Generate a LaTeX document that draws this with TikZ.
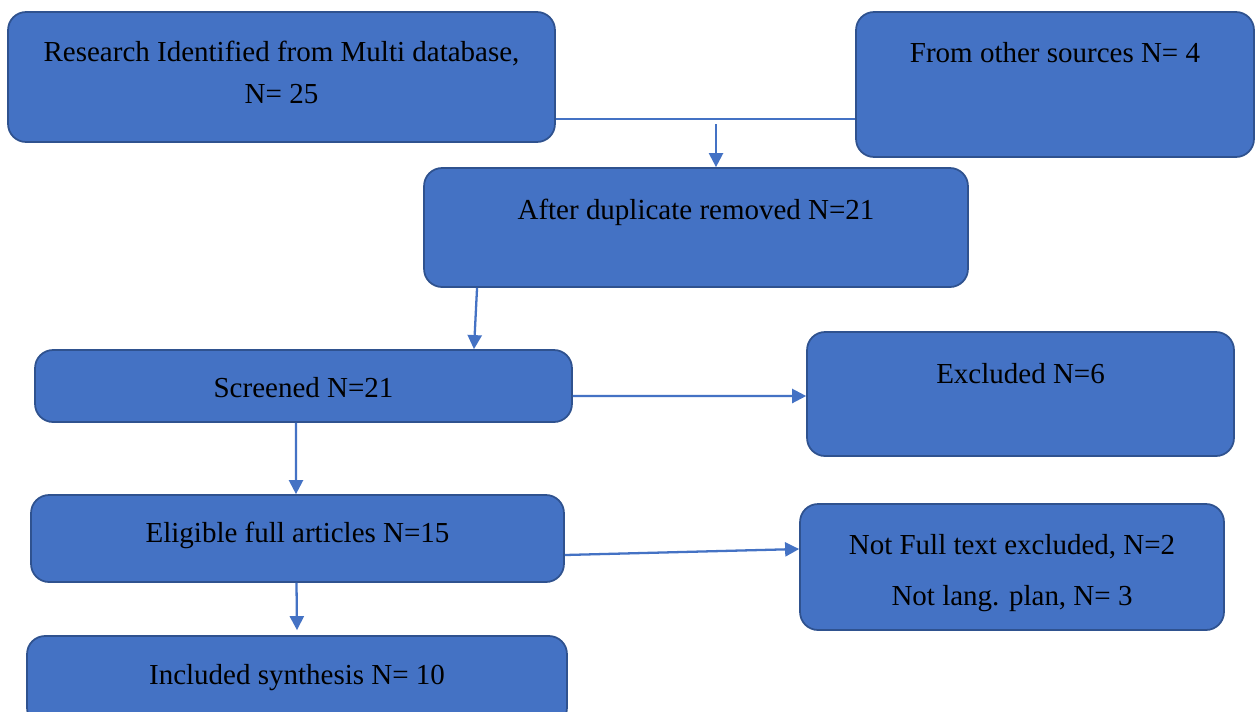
\documentclass[tikz,border=0pt]{standalone}
\usepackage{fontspec}
\setmainfont{Liberation Serif}
\usetikzlibrary{arrows.meta}
\usetikzlibrary{positioning}
\definecolor{boxblue}{HTML}{4472C4}
\definecolor{boxedge}{HTML}{2F528F}

\begin{document}
\begin{tikzpicture}[x=0.02cm,y=-0.02cm,
	every node/.style={font=\fontsize{16.5}{20}\selectfont},
	box/.style={draw=boxedge,line width=1pt,fill=boxblue,rounded corners=0.36cm,inner sep=0pt},
	txt/.style={inner sep=0pt,align=center},
	link/.style={draw=boxblue,line width=0.7pt},
	arr/.style={draw=boxblue,line width=1.3pt,-{Triangle[length=8pt,width=8pt]}}]
	\useasboundingbox[fill=white] (0,0) rectangle (1256,711);

	% boxes
	\node[box,minimum width=10.94cm,minimum height=2.6cm] (research) at (281.5,77) {};
	\node[txt] (researchtxt) at ([yshift=-1.22cm]research.north)
		{Research Identified from Multi database,\\[3.8pt] N= 25};
	\node[box,minimum width=7.96cm,minimum height=2.9cm] (other) at (1055,84.5) {};
	\node[txt] (othertxt) at ([yshift=-0.82cm]other.north) {From other sources N= 4};
	\node[box,minimum width=10.88cm,minimum height=2.38cm] (after) at (696,227.5) {};
	\node[txt] (aftertxt) at ([yshift=-0.9cm]after.north) {After duplicate removed N=21};
	\node[box,minimum width=10.74cm,minimum height=1.44cm] (screened) at (303.5,386) {};
	\node[txt] (screenedtxt) at ([yshift=-0.76cm]screened.north) {Screened N=21};
	\node[box,minimum width=8.54cm,minimum height=2.48cm] (excluded) at (1020.5,394) {};
	\node[txt] (excludedtxt) at ([yshift=-0.84cm]excluded.north) {Excluded N=6};
	\node[box,minimum width=10.66cm,minimum height=1.74cm] (eligible) at (297.5,538.5) {};
	\node[txt] (eligibletxt) at ([yshift=-0.83cm]eligible.north) {Eligible full articles N=15};
	\node[box,minimum width=8.48cm,minimum height=2.52cm] (notfull) at (1012,567) {};
	\node[txt] (notfulltxt) at ([yshift=-1.39cm]notfull.north)
		{Not Full text excluded, N=2\\[9pt] Not lang. plan, N= 3};
	\node[box,minimum width=10.8cm,minimum height=1.8cm] (included) at (297,681) {};
	\node[txt] (includedtxt) at ([yshift=-0.84cm]included.north) {Included synthesis N= 10};

	% connectors
	\coordinate (merge) at (716,119);
	\draw[link] (research.east |- merge) -- (other.west |- merge);
	\draw[arr] ([yshift=-0.1cm]merge) -- (after.north -| merge);
	\draw[arr] ([xshift=-4.38cm]after.south) -- ([xshift=3.41cm]screened.north);
	\draw[arr] ([yshift=-0.2cm]screened.east) -- ([yshift=-0.04cm]excluded.west);
	\draw[arr] ([xshift=-0.15cm]screened.south) -- ([xshift=-0.03cm]eligible.north);
	\draw[arr] ([yshift=-0.33cm]eligible.east) -- ([yshift=0.36cm]notfull.west);
	\draw[arr] ([xshift=-0.02cm]eligible.south) -- ([yshift=0.1cm]included.north);
\end{tikzpicture}
\end{document}
